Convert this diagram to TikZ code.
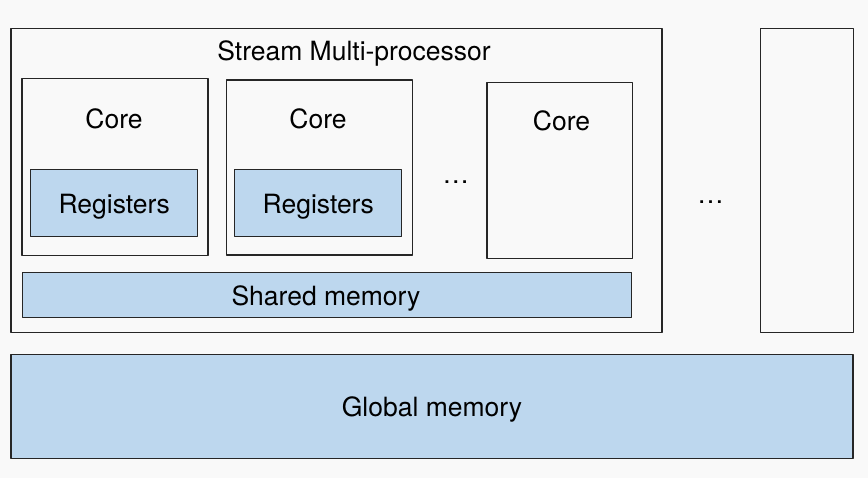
\documentclass[tikz,border=0pt]{standalone}
\usepackage{fontspec}
\setmainfont{TeX Gyre Heros}
\definecolor{bgGray}{HTML}{F9F9F9}
\definecolor{memBlue}{HTML}{BDD7EE}
\begin{document}
\begin{tikzpicture}[x=1pt,y=-1pt,line join=round,font=\fontsize{26.5}{30}\selectfont,
  box/.style={draw=black!85,line width=1.1pt,fill=bgGray,inner sep=0pt,outer sep=0pt},
  mem/.style={box,fill=memBlue},
  txt/.style={anchor=base,inner sep=0pt}]
\fill[bgGray] (0,0) rectangle (868,478);
\useasboundingbox (0,0) rectangle (868,478);
%% Stream multi-processor
\node[box,minimum width=651,minimum height=304] (sm) at (336.5,180.2) {};
\node[txt] (smtitle) at (354,61) {Stream Multi-processor};
%% Cores
\node[box,minimum width=186,minimum height=176.5] (core1) at (115,167.2) {};
\node[box,minimum width=185.5,minimum height=175] (core2) at (319.5,167.5) {};
\node[box,minimum width=145.5,minimum height=176.5] (core3) at (559.7,170.5) {};
\node[txt] (coretxt1) at (114,128.7) {Core};
\node[txt] (coretxt2) at (318,128.7) {Core};
\node[txt] (coretxt3) at (561.5,130.5) {Core};
%% Registers
\node[mem,minimum width=166.5,minimum height=66.7] (reg1) at (114,203.3) {};
\node[mem,minimum width=167,minimum height=66.7] (reg2) at (318.2,203.3) {};
\node[txt] (regtxt1) at (114.2,213.3) {Registers};
\node[txt] (regtxt2) at (318.3,213.3) {Registers};
\node[txt] (dots1) at (455.8,184) {\dots};
%% Shared memory
\node[mem,minimum width=609.5,minimum height=45] (shared) at (326.8,294.8) {};
\node[txt] (sharedtxt) at (326,305.3) {Shared memory};
%% Other multi-processors
\node[box,minimum width=92.7,minimum height=304] (sm2) at (806.7,180.2) {};
\node[txt] (dots2) at (710.5,204) {\dots};
%% Global memory
\node[mem,minimum width=842,minimum height=104] (global) at (432,406.7) {};
\node[txt] (globaltxt) at (432,416.7) {Global memory};
\end{tikzpicture}
\end{document}
